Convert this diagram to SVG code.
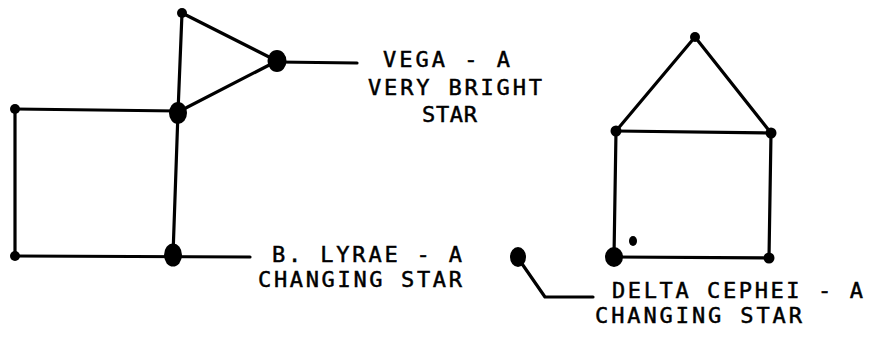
<svg xmlns="http://www.w3.org/2000/svg" width="869" height="340" viewBox="0 0 869 340">
<style>
.ln{stroke:#000;stroke-width:3.2;fill:none;stroke-linecap:round;stroke-linejoin:round}
.st{fill:#000}
.t{font-family:"DejaVu Sans Mono","Liberation Mono",monospace;font-size:22px;fill:#000;stroke:#000;stroke-width:0.5}
</style>
<rect width="869" height="340" fill="#fff"/>
<g id="connectors">
<path class="ln" d="M182,13 L178,112"/>
<path class="ln" d="M182,13 L277,61"/>
<path class="ln" d="M178,112 L277,61"/>
<path class="ln" d="M15,109 L178,111"/>
<path class="ln" d="M178,112 L173,255"/>
<path class="ln" d="M15,109 L15,256"/>
<path class="ln" d="M15,256 L250,257"/>
<path class="ln" d="M277,62 L357,63"/>
<path class="ln" d="M695,37 L616,131"/>
<path class="ln" d="M695,37 L771,133"/>
<path class="ln" d="M616,131 L771,133"/>
<path class="ln" d="M616,131 L614,257"/>
<path class="ln" d="M771,133 L769,258"/>
<path class="ln" d="M614,257 L769,258"/>
<path class="ln" d="M518,258 L545,297 L593,297"/>
</g>
<g id="star-top"><circle class="st" cx="182" cy="13" r="5"/></g>
<g id="vega"><ellipse class="st" cx="277" cy="61" rx="9.5" ry="11"/></g>
<g id="star-mid"><ellipse class="st" cx="178" cy="113" rx="9" ry="11"/></g>
<g id="star-left-top"><circle class="st" cx="15" cy="109" r="5"/></g>
<g id="star-left-bottom"><circle class="st" cx="15" cy="256" r="5"/></g>
<g id="b-lyrae"><ellipse class="st" cx="173" cy="255" rx="9" ry="11.5"/></g>
<g id="cep-top"><circle class="st" cx="695" cy="37" r="5"/></g>
<g id="cep-left-top"><circle class="st" cx="616" cy="131" r="5.5"/></g>
<g id="cep-right-top"><circle class="st" cx="771" cy="133" r="5.5"/></g>
<g id="cep-left-bottom"><ellipse class="st" cx="614" cy="257" rx="9" ry="10"/></g>
<g id="cep-right-bottom"><circle class="st" cx="769" cy="258" r="5.5"/></g>
<g id="cep-small"><ellipse class="st" cx="633" cy="241" rx="4" ry="5"/></g>
<g id="delta-cephei"><ellipse class="st" cx="518" cy="257" rx="8" ry="10"/></g>
<g id="labels">
<text class="t" x="383" y="67" textLength="127" lengthAdjust="spacing">VEGA - A</text>
<text class="t" x="368" y="95" textLength="174" lengthAdjust="spacing">VERY BRIGHT</text>
<text class="t" x="422" y="122" textLength="55" lengthAdjust="spacing">STAR</text>
<text class="t" x="272" y="262" textLength="190" lengthAdjust="spacing">B. LYRAE - A</text>
<text class="t" x="258" y="287" textLength="204" lengthAdjust="spacing">CHANGING STAR</text>
<text class="t" x="612" y="298" textLength="251" lengthAdjust="spacing">DELTA CEPHEI - A</text>
<text class="t" x="595" y="323" textLength="207" lengthAdjust="spacing">CHANGING STAR</text>
</g>
</svg>
